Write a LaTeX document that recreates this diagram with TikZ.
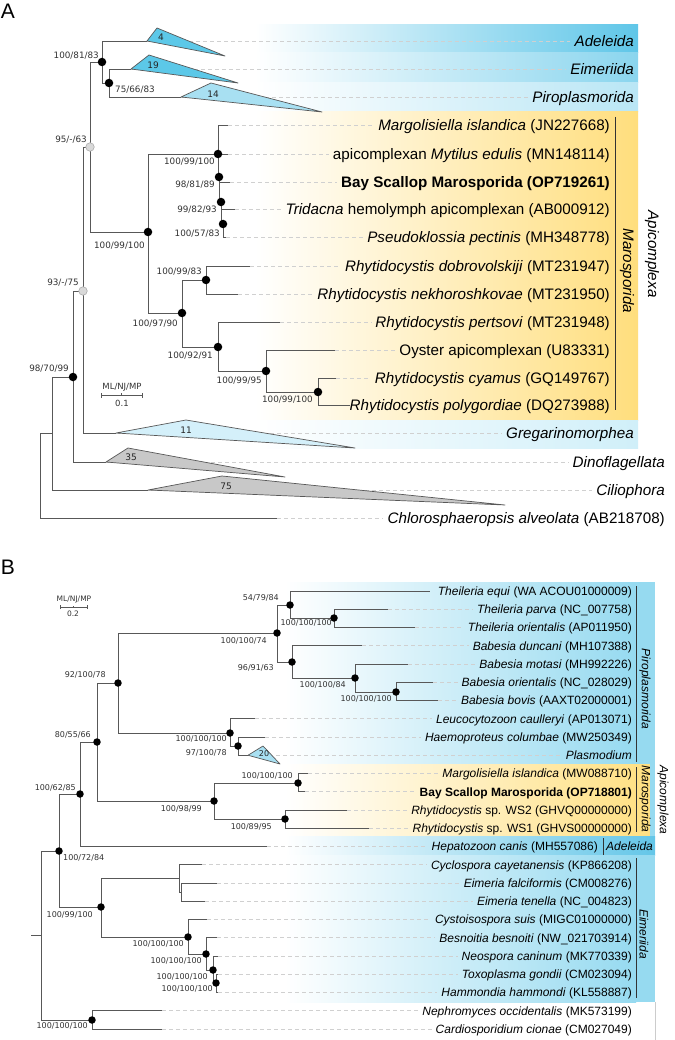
\documentclass[tikz,border=0pt]{standalone}
\usepackage{fontspec}
\setmainfont{Liberation Sans}
\newfontfamily\supf{DejaVu Sans}
\definecolor{adelA}{RGB}{95,198,232}
\definecolor{eimA}{RGB}{138,213,238}
\definecolor{piroA}{RGB}{185,230,245}
\definecolor{gregA}{RGB}{208,239,249}
\definecolor{yelA}{RGB}{255,222,125}
\definecolor{triA}{RGB}{92,200,232}
\definecolor{triB}{RGB}{168,224,242}
\definecolor{triC}{RGB}{212,240,250}
\definecolor{triG}{RGB}{200,200,200}
\definecolor{blueB}{RGB}{150,218,240}
\definecolor{adelB}{RGB}{100,198,232}
\definecolor{yelB}{RGB}{255,224,130}
\definecolor{treeg}{RGB}{88,88,88}
\definecolor{dashg}{RGB}{208,208,208}
\tikzset{
  edge/.style={draw=treeg, line width=0.85pt},
  dl/.style={draw=dashg, line width=0.6pt, dash pattern=on 4pt off 3pt},
  blkA/.style={circle, fill=black, inner sep=0pt, minimum size=8.5pt},
  gryA/.style={circle, fill=gray!30, draw=gray!65, line width=0.6pt, inner sep=0pt, minimum size=8.5pt},
  blkB/.style={circle, fill=black, inner sep=0pt, minimum size=7.5pt},
  supA/.style={inner sep=0pt, text=black!80, font=\supf\fontsize{8.8}{10}\selectfont, text height=6.4pt, text depth=0pt},
  supB/.style={inner sep=0pt, text=black!80, font=\supf\fontsize{8}{9}\selectfont, text height=5.8pt, text depth=0pt},
  taxA/.style={anchor=east, inner sep=0pt, font=\fontsize{15.2}{18}\selectfont, text height=10.9pt, text depth=0pt},
  taxB/.style={anchor=east, inner sep=0pt, font=\fontsize{12}{14}\selectfont, text height=8.6pt, text depth=0pt},
  rotA/.style={rotate=-90, inner sep=0pt, font=\itshape\fontsize{15.2}{18}\selectfont},
  rotB/.style={rotate=-90, inner sep=0pt, font=\itshape\fontsize{12}{14}\selectfont},
  trilab/.style={inner sep=0pt, font=\supf\fontsize{9}{10}\selectfont, text=black!85},
  grpbar/.style={draw=black!80, line width=0.6pt},
  panlab/.style={inner sep=0pt, font=\fontsize{21}{24}\selectfont},
  scl/.style={inner sep=0pt, text=black!80, font=\supf\fontsize{8.5}{9}\selectfont},
  trif/.style={draw=treeg, line width=0.7pt, line join=round},
}
\begin{document}
\begin{tikzpicture}[x=1pt,y=-1pt]
\useasboundingbox (0,0) rectangle (674,1040);
\fill[white] (0,0) rectangle (674,1040);

% ================= PANEL A backgrounds =================
\shade[left color=white, right color=adelA] (255,25) rectangle (638,53);
\shade[left color=white, right color=eimA] (255,53) rectangle (638,83);
\shade[left color=white, right color=piroA] (255,83) rectangle (638,112);
\shade[left color=white, right color=yelA] (255,112) rectangle (638,420);
\shade[left color=white, right color=gregA] (255,420) rectangle (638,448);

\node[panlab] (labA) at (8,11) {A};

% ----- coordinates A -----
\coordinate (aR) at (40,433);
\coordinate (aR1) at (52,433);
\coordinate (aR2) at (73,377);
\coordinate (aR3) at (83,291);
\coordinate (aN0) at (90,147);
\coordinate (aN1) at (102,62);
\coordinate (aN2) at (109,83);
\coordinate (aM1) at (148,232);
\coordinate (aM2) at (218,154);
\coordinate (aM3) at (219,177);
\coordinate (aM4) at (221,202);
\coordinate (aM5) at (223,224);
\coordinate (aM7) at (182,313);
\coordinate (aM8) at (206,280);
\coordinate (aM9) at (218,347);
\coordinate (aM10) at (266,371);
\coordinate (aM11) at (318,392);
% tips
\coordinate (apAdel) at (147,41);
\coordinate (apEim) at (131,69);
\coordinate (apPiro) at (181,97);
\coordinate (apGreg) at (116,433);
\coordinate (apDino) at (106,462);
\coordinate (apCil) at (148,490);
\coordinate (tChl) at (277,518);
\coordinate (tMarg) at (228,125);
\coordinate (tMyt) at (228,154);
\coordinate (tBay) at (230,182);
\coordinate (tTri) at (235,209);
\coordinate (tPse) at (226,237);
\coordinate (tDob) at (250,266);
\coordinate (tNek) at (238,294);
\coordinate (tPer) at (280,322);
\coordinate (tOys) at (335,350);
\coordinate (tCya) at (336,378);
\coordinate (tPol) at (350,405);

% ----- labels A -----
\node[taxA] (lAdel) at (634,41) {\textit{Adeleida}};
\node[taxA] (lEim) at (634,69) {\textit{Eimeriida}};
\node[taxA] (lPiro) at (634,97) {\textit{Piroplasmorida}};
\node[taxA] (lMarg) at (610,125) {\textit{Margolisiella islandica} (JN227668)};
\node[taxA] (lMyt) at (610,154) {apicomplexan \textit{Mytilus edulis} (MN148114)};
\node[taxA] (lBay) at (610,182) {\textbf{Bay Scallop Marosporida (OP719261)}};
\node[taxA] (lTri) at (610,209) {\textit{Tridacna} hemolymph apicomplexan (AB000912)};
\node[taxA] (lPse) at (610,237) {\textit{Pseudoklossia pectinis} (MH348778)};
\node[taxA] (lDob) at (610,266) {\textit{Rhytidocystis dobrovolskiji} (MT231947)};
\node[taxA] (lNek) at (610,294) {\textit{Rhytidocystis nekhoroshkovae} (MT231950)};
\node[taxA] (lPer) at (610,322) {\textit{Rhytidocystis pertsovi} (MT231948)};
\node[taxA] (lOys) at (610,350) {Oyster apicomplexan (U83331)};
\node[taxA] (lCya) at (610,378) {\textit{Rhytidocystis cyamus} (GQ149767)};
\node[taxA] (lPol) at (610,405) {\textit{Rhytidocystis polygordiae} (DQ273988)};
\node[taxA] (lGreg) at (634,433) {\textit{Gregarinomorphea}};
\node[taxA] (lDino) at (665,462) {\textit{Dinoflagellata}};
\node[taxA] (lCil) at (665,490) {\textit{Ciliophora}};
\node[taxA] (lChl) at (665,518) {\textit{Chlorosphaeropsis alveolata} (AB218708)};

% dashed leaders A
\foreach \t/\l in {apAdel/lAdel, apEim/lEim, apPiro/lPiro, tMarg/lMarg, tMyt/lMyt, tBay/lBay, tTri/lTri, tPse/lPse, tDob/lDob, tNek/lNek, tPer/lPer, tOys/lOys, tCya/lCya, tPol/lPol, apGreg/lGreg, apDino/lDino, apCil/lCil, tChl/lChl}
  \draw[dl] (\t) -- ([xshift=-4pt]\t -| \l.west);

% group bars and labels A
\coordinate (barAt) at (615,117);
\coordinate (barAb) at (615,410);
\draw[grpbar] (barAt) -- (barAb);
\node[rotA] (lMaroA) at (627,271) {Marosporida};
\node[rotA] (lApiA) at (652,254) {Apicomplexa};

% triangles A
\filldraw[trif, fill=triA] (apAdel) -- (157,28) -- (225,56) -- cycle;
\filldraw[trif, fill=triA] (apEim) -- (149,55) -- (238,83) -- cycle;
\filldraw[trif, fill=triB] (apPiro) -- (211,83) -- (322,112) -- cycle;
\filldraw[trif, fill=triC] (apGreg) -- (186,420) -- (355,448) -- cycle;
\filldraw[trif, fill=triG] (apDino) -- (128,448) -- (285,477) -- cycle;
\filldraw[trif, fill=triG] (apCil) -- (222,476) -- (505,505) -- cycle;
\node[trilab] (nAdel) at (161,37) {4};
\node[trilab] (nEim) at (153,65) {19};
\node[trilab] (nPiro) at (213,94) {14};
\node[trilab] (nGreg) at (186,430) {11};
\node[trilab] (nDino) at (131,457) {35};
\node[trilab] (nCil) at (226,486) {75};

% tree edges A
\draw[edge] (aR) -- (aR1);
\draw[edge] (aR) |- (tChl);
\draw[edge] (aR1) |- (aR2);
\draw[edge] (aR1) |- (apCil);
\draw[edge] (aR2) |- (aR3);
\draw[edge] (aR2) |- (apDino);
\draw[edge] (aR3) |- (aN0);
\draw[edge] (aR3) |- (apGreg);
\draw[edge] (aN0) |- (aN1);
\draw[edge] (aN0) |- (aM1);
\draw[edge] (aN1) |- (apAdel);
\draw[edge] (aN1) |- (aN2);
\draw[edge] (aN2) |- (apEim);
\draw[edge] (aN2) |- (apPiro);
\draw[edge] (aM1) |- (aM2);
\draw[edge] (aM1) |- (aM7);
\draw[edge] (aM2) |- (tMarg);
\draw[edge] (aM2) -- (tMyt);
\draw[edge] (aM2) |- (aM3);
\draw[edge] (aM3) |- (tBay);
\draw[edge] (aM3) |- (aM4);
\draw[edge] (aM4) |- (tTri);
\draw[edge] (aM4) |- (aM5);
\draw[edge] (aM5) |- (tPse);
\draw[edge] (aM7) |- (aM8);
\draw[edge] (aM7) |- (aM9);
\draw[edge] (aM8) |- (tDob);
\draw[edge] (aM8) |- (tNek);
\draw[edge] (aM9) |- (tPer);
\draw[edge] (aM9) |- (aM10);
\draw[edge] (aM10) |- (tOys);
\draw[edge] (aM10) |- (aM11);
\draw[edge] (aM11) |- (tCya);
\draw[edge] (aM11) |- (tPol);

% markers A
\foreach \n in {aN1,aN2,aM1,aM2,aM3,aM4,aM5,aM7,aM8,aM9,aM10,aM11,aR2}
  \node[blkA] (\n-m) at (\n) {};
\node[gryA] (aN0-m) at (aN0) {};
\node[gryA] (aR3-m) at (aR3) {};

% support values A
\node[supA, anchor=east] (sA1) at (99,55) {100/81/83};
\node[supA, anchor=west] (sA2) at (115,89) {75/66/83};
\node[supA, anchor=east] (sA3) at (87,139) {95/-/63};
\node[supA, anchor=east] (sA4) at (215,161) {100/99/100};
\node[supA, anchor=east] (sA5) at (215,184) {98/81/89};
\node[supA, anchor=east] (sA6) at (217,209) {99/82/93};
\node[supA, anchor=east] (sA7) at (220,233) {100/57/83};
\node[supA, anchor=east] (sA8) at (145,245) {100/99/100};
\node[supA, anchor=east] (sA9) at (202,271) {100/99/83};
\node[supA, anchor=east] (sA10) at (178,323) {100/97/90};
\node[supA, anchor=east] (sA11) at (213,355) {100/92/91};
\node[supA, anchor=east] (sA12) at (262,380) {100/99/95};
\node[supA, anchor=east] (sA13) at (313,399) {100/99/100};
\node[supA, anchor=east] (sA14) at (79,282) {93/-/75};
\node[supA, anchor=east] (sA15) at (69,368) {98/70/99};

% scale bar A
\node[scl] (sclA) at (122,387) {ML/NJ/MP};
\coordinate (sbA1) at (101,395);
\coordinate (sbA2) at (142,395);
\coordinate (sbAm) at (121.5,395);
\draw[draw=treeg, line width=0.6pt] (sbA1) -- (sbA2);
\draw[draw=treeg, line width=0.6pt] ([yshift=-2.5pt]sbA1) -- ([yshift=2.5pt]sbA1);
\draw[draw=treeg, line width=0.6pt] ([yshift=-2.5pt]sbA2) -- ([yshift=2.5pt]sbA2);
\draw[draw=treeg, line width=0.6pt] (sbAm) -- ([yshift=2pt]sbAm);
\node[scl] (sclA2) at (122,403) {0.1};

% ================= PANEL B backgrounds =================
\shade[left color=white, right color=blueB] (285,582) rectangle (636,764);
\fill[blueB] (636,582) rectangle (655,764);
\shade[left color=white, right color=yelB] (285,764) rectangle (650,836);
\fill[blueB] (650,764) rectangle (655,836);
\shade[left color=white, right color=adelB] (285,836) rectangle (655,855);
\shade[left color=white, right color=blueB] (285,855) rectangle (636,1002);
\fill[blueB] (636,855) rectangle (655,1002);
\coordinate (rlB1) at (655,1002);
\coordinate (rlB2) at (655,1040);
\draw[draw=gray!40, line width=0.6pt] (rlB1) -- (rlB2);

\node[panlab] (labB) at (8,567) {B};

% ----- coordinates B -----
\coordinate (bStub) at (31,935);
\coordinate (bR0) at (41,935);
\coordinate (bN72) at (59,851);
\coordinate (bN62) at (80,794);
\coordinate (bN55) at (97,742);
\coordinate (bN92) at (118,683);
\coordinate (bP1) at (277,633);
\coordinate (bT1) at (290,605);
\coordinate (bT2) at (334,618);
\coordinate (bB1) at (292,662);
\coordinate (bB2) at (355,678);
\coordinate (bB3) at (396,692);
\coordinate (bH1) at (230,733);
\coordinate (bH2) at (238,746);
\coordinate (bM1) at (214,801);
\coordinate (bM2) at (298,783);
\coordinate (bM3) at (285,819);
\coordinate (bE1) at (101,907);
\coordinate (bE2) at (179,878);
\coordinate (bE3) at (181,892);
\coordinate (bE4) at (188,937);
\coordinate (bE5) at (206,954);
\coordinate (bE6) at (213,970);
\coordinate (bE7) at (216,983);
\coordinate (bC1) at (92,1020);
% tips B
\coordinate (tTeq) at (430,591);
\coordinate (tTpa) at (388,609.25);
\coordinate (tTor) at (415,627.5);
\coordinate (tBdu) at (362,645.75);
\coordinate (tBmo) at (408,664);
\coordinate (tBor) at (433,682.25);
\coordinate (tBbo) at (438,700.5);
\coordinate (tLeu) at (255,718.75);
\coordinate (tHae) at (265,737);
\coordinate (apPla) at (248,755.25);
\coordinate (tMarB) at (308,773.5);
\coordinate (tBayB) at (305,791.75);
\coordinate (tWS2) at (347,810);
\coordinate (tWS1) at (369,828.25);
\coordinate (tHep) at (267,846.5);
\coordinate (tCyc) at (202,864.75);
\coordinate (tEfa) at (217,883);
\coordinate (tEte) at (205,901.25);
\coordinate (tCys) at (207,919.5);
\coordinate (tBes) at (217,937.75);
\coordinate (tNeo) at (218,956);
\coordinate (tTox) at (218,974.25);
\coordinate (tHam) at (218,992.5);
\coordinate (tNep) at (162,1010.75);
\coordinate (tCar) at (162,1029);

% labels B
\node[taxB] (lTeq) at (632,591) {\textit{Theileria equi} (WA ACOU01000009)};
\node[taxB] (lTpa) at (632,609.25) {\textit{Theileria parva} (NC\_007758)};
\node[taxB] (lTor) at (632,627.5) {\textit{Theileria orientalis} (AP011950)};
\node[taxB] (lBdu) at (632,645.75) {\textit{Babesia duncani} (MH107388)};
\node[taxB] (lBmo) at (632,664) {\textit{Babesia motasi} (MH992226)};
\node[taxB] (lBor) at (632,682.25) {\textit{Babesia orientalis} (NC\_028029)};
\node[taxB] (lBbo) at (632,700.5) {\textit{Babesia bovis} (AAXT02000001)};
\node[taxB] (lLeu) at (632,718.75) {\textit{Leucocytozoon caulleryi} (AP013071)};
\node[taxB] (lHae) at (632,737) {\textit{Haemoproteus columbae} (MW250349)};
\node[taxB] (lPla) at (632,755.25) {\textit{Plasmodium}};
\node[taxB] (lMarB) at (632,773.5) {\textit{Margolisiella islandica} (MW088710)};
\node[taxB] (lBayB) at (632,791.75) {\textbf{Bay Scallop Marosporida (OP718801)}};
\node[taxB] (lWS2) at (632,810) {\textit{Rhytidocystis} sp. WS2 (GHVQ00000000)};
\node[taxB] (lWS1) at (632,828.25) {\textit{Rhytidocystis} sp. WS1 (GHVS00000000)};
\node[taxB] (lHep) at (598,846.5) {\textit{Hepatozoon canis} (MH557086)};
\node[taxB] (lCyc) at (632,864.75) {\textit{Cyclospora cayetanensis} (KP866208)};
\node[taxB] (lEfa) at (632,883) {\textit{Eimeria falciformis} (CM008276)};
\node[taxB] (lEte) at (632,901.25) {\textit{Eimeria tenella} (NC\_004823)};
\node[taxB] (lCys) at (632,919.5) {\textit{Cystoisospora suis} (MIGC01000000)};
\node[taxB] (lBes) at (632,937.75) {\textit{Besnoitia besnoiti} (NW\_021703914)};
\node[taxB] (lNeo) at (632,956) {\textit{Neospora caninum} (MK770339)};
\node[taxB] (lTox) at (632,974.25) {\textit{Toxoplasma gondii} (CM023094)};
\node[taxB] (lHam) at (632,992.5) {\textit{Hammondia hammondi} (KL558887)};
\node[taxB] (lNep) at (632,1010.75) {\textit{Nephromyces occidentalis} (MK573199)};
\node[taxB] (lCar) at (632,1029) {\textit{Cardiosporidium cionae} (CM027049)};

\foreach \t/\l in {tTpa/lTpa, tTor/lTor, tBdu/lBdu, tBmo/lBmo, tBor/lBor, tBbo/lBbo, tLeu/lLeu, tHae/lHae, apPla/lPla, tMarB/lMarB, tBayB/lBayB, tWS2/lWS2, tWS1/lWS1, tHep/lHep, tCyc/lCyc, tEfa/lEfa, tEte/lEte, tCys/lCys, tBes/lBes, tNeo/lNeo, tTox/lTox, tHam/lHam, tNep/lNep, tCar/lCar}
  \draw[dl] (\t) -- ([xshift=-4pt]\t -| \l.west);

% group bars B
\coordinate (bgP1) at (636,586);
\coordinate (bgP2) at (636,762);
\coordinate (bgM1) at (636,767);
\coordinate (bgM2) at (636,832);
\coordinate (bgA1) at (603,838);
\coordinate (bgA2) at (603,855);
\coordinate (bgE1) at (636,858);
\coordinate (bgE2) at (636,998);
\draw[grpbar] (bgP1) -- (bgP2);
\draw[grpbar] (bgM1) -- (bgM2);
\draw[grpbar] (bgA1) -- (bgA2);
\draw[grpbar] (bgE1) -- (bgE2);
\node[rotB] (lPiroB) at (645,689) {Piroplasmorida};
\node[rotB] (lMaroB) at (645,799) {Marosporida};
\node[inner sep=0pt, anchor=west, font=\itshape\fontsize{12}{14}\selectfont, text height=8.6pt, text depth=0pt] (lAdelB) at (606,846.5) {Adeleida};
\node[rotB] (lEimB) at (644,934) {Eimeriida};
\node[rotB] (lApiB) at (663,800) {Apicomplexa};

% triangle B
\filldraw[trif, fill=triB] (apPla) -- (263,746) -- (280,764) -- cycle;
\node[supB, text=black!85] (nPla) at (264,754) {20};

% edges B
\draw[edge] (bStub) -- (bR0);
\draw[edge] (bR0) |- (bN72);
\draw[edge] (bR0) |- (bC1);
\draw[edge] (bN72) |- (bN62);
\draw[edge] (bN72) |- (bE1);
\draw[edge] (bN62) |- (bN55);
\draw[edge] (bN62) |- (tHep);
\draw[edge] (bN55) |- (bN92);
\draw[edge] (bN55) |- (bM1);
\draw[edge] (bN92) |- (bP1);
\draw[edge] (bN92) |- (bH1);
\draw[edge] (bP1) |- (bT1);
\draw[edge] (bP1) |- (bB1);
\draw[edge] (bT1) |- (tTeq);
\draw[edge] (bT1) |- (bT2);
\draw[edge] (bT2) |- (tTpa);
\draw[edge] (bT2) |- (tTor);
\draw[edge] (bB1) |- (tBdu);
\draw[edge] (bB1) |- (bB2);
\draw[edge] (bB2) |- (tBmo);
\draw[edge] (bB2) |- (bB3);
\draw[edge] (bB3) |- (tBor);
\draw[edge] (bB3) |- (tBbo);
\draw[edge] (bH1) |- (tLeu);
\draw[edge] (bH1) |- (bH2);
\draw[edge] (bH2) |- (tHae);
\draw[edge] (bH2) |- (apPla);
\draw[edge] (bM1) |- (bM2);
\draw[edge] (bM1) |- (bM3);
\draw[edge] (bM2) |- (tMarB);
\draw[edge] (bM2) |- (tBayB);
\draw[edge] (bM3) |- (tWS2);
\draw[edge] (bM3) |- (tWS1);
\draw[edge] (bE1) |- (bE2);
\draw[edge] (bE1) |- (bE4);
\draw[edge] (bE2) |- (tCyc);
\draw[edge] (bE2) |- (bE3);
\draw[edge] (bE3) |- (tEfa);
\draw[edge] (bE3) |- (tEte);
\draw[edge] (bE4) |- (tCys);
\draw[edge] (bE4) |- (bE5);
\draw[edge] (bE5) |- (tBes);
\draw[edge] (bE5) |- (bE6);
\draw[edge] (bE6) |- (tNeo);
\draw[edge] (bE6) |- (bE7);
\draw[edge] (bE7) |- (tTox);
\draw[edge] (bE7) |- (tHam);
\draw[edge] (bC1) |- (tNep);
\draw[edge] (bC1) |- (tCar);

\foreach \n in {bT1,bT2,bP1,bB1,bB2,bB3,bN92,bH1,bH2,bN55,bM1,bM2,bM3,bN62,bN72,bE1,bE4,bE5,bE6,bE7,bC1}
  \node[blkB] (\n-m) at (\n) {};

% support values B
\node[supB, anchor=east] (sB1) at (279,598) {54/79/84};
\node[supB, anchor=east] (sB2) at (332,623) {100/100/100};
\node[supB, anchor=east] (sB3) at (267,641) {100/100/74};
\node[supB, anchor=east] (sB4) at (274,668) {96/91/63};
\node[supB, anchor=east] (sB5) at (346,685) {100/100/84};
\node[supB, anchor=east] (sB6) at (392,699) {100/100/100};
\node[supB, anchor=east] (sB7) at (106,675) {92/100/78};
\node[supB, anchor=east] (sB8) at (91,735) {80/55/66};
\node[supB, anchor=east] (sB9) at (227,739) {100/100/100};
\node[supB, anchor=east] (sB10) at (227,753) {97/100/78};
\node[supB, anchor=east] (sB11) at (293,776) {100/100/100};
\node[supB, anchor=east] (sB12) at (202,809) {100/98/99};
\node[supB, anchor=east] (sB13) at (272,827) {100/89/95};
\node[supB, anchor=east] (sB14) at (76,788) {100/62/85};
\node[supB, anchor=west] (sB15) at (63,858) {100/72/84};
\node[supB, anchor=east] (sB16) at (93,915) {100/99/100};
\node[supB, anchor=east] (sB17) at (184,944) {100/100/100};
\node[supB, anchor=east] (sB18) at (202,961) {100/100/100};
\node[supB, anchor=east] (sB19) at (208,977) {100/100/100};
\node[supB, anchor=east] (sB20) at (213,989) {100/100/100};
\node[supB, anchor=east] (sB21) at (88,1026) {100/100/100};

% scale bar B
\node[supB, font=\supf\fontsize{7.5}{8}\selectfont] (sclB) at (74,599) {ML/NJ/MP};
\coordinate (sbB1) at (60,607);
\coordinate (sbB2) at (87,607);
\coordinate (sbBm) at (73.5,607);
\draw[draw=treeg, line width=0.5pt] (sbB1) -- (sbB2);
\draw[draw=treeg, line width=0.5pt] ([yshift=-2pt]sbB1) -- ([yshift=2pt]sbB1);
\draw[draw=treeg, line width=0.5pt] ([yshift=-2pt]sbB2) -- ([yshift=2pt]sbB2);
\draw[draw=treeg, line width=0.5pt] (sbBm) -- ([yshift=1.5pt]sbBm);
\node[supB, font=\supf\fontsize{7.5}{8}\selectfont] (sclB2) at (73,614) {0.2};
\end{tikzpicture}
\end{document}
